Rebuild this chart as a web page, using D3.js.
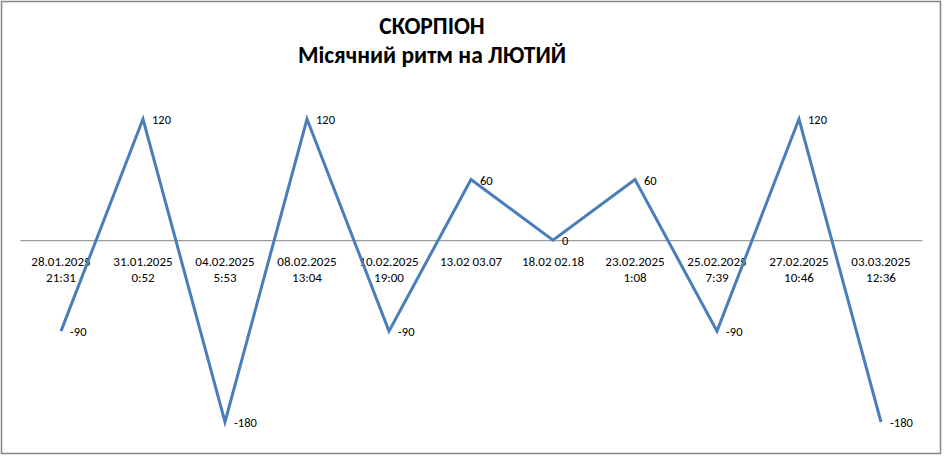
<!DOCTYPE html>
<html>
<head>
<meta charset="utf-8">
<title>СКОРПІОН</title>
<style>
  html, body { margin: 0; padding: 0; background: #fff; }
  svg { display: block; }
</style>
</head>
<body>
<script src="https://cdn.jsdelivr.net/npm/d3@7/dist/d3.min.js"></script>
<script>
    var width = 944;
    var height = 457;

    // дані
    var categories = [
        ["28.01.2025", "21:31"],
        ["31.01.2025", "0:52"],
        ["04.02.2025", "5:53"],
        ["08.02.2025", "13:04"],
        ["10.02.2025", "19:00"],
        ["13.02 03.07"],
        ["18.02 02.18"],
        ["23.02.2025", "1:08"],
        ["25.02.2025", "7:39"],
        ["27.02.2025", "10:46"],
        ["03.03.2025", "12:36"]
    ];
    var values = [-90, 120, -180, 120, -90, 60, 0, 60, -90, 120, -180];
    var titleLines = ["СКОРПІОН", "Місячний ритм на ЛЮТИЙ"];

    var padding = {left: 20, right: 22, top: 119, bottom: 35};
    var font = "Carlito, Lato, 'Open Sans', sans-serif";

    var svg = d3.select("body")
            .append("svg")
            .attr("width", width)
            .attr("height", height);

    // рамка
    svg.append("rect")
            .attr("x", 1.5)
            .attr("y", 1.5)
            .attr("width", 939)
            .attr("height", 452)
            .attr("fill", "#fff")
            .attr("stroke", "#868686")
            .attr("stroke-width", 1.5);

    // заголовок
    svg.selectAll(".title")
            .data(titleLines)
            .enter()
            .append("text")
            .attr("class", "title")
            .attr("x", 432)
            .attr("y", function (d, i) { return 34 + i * 29; })
            .attr("text-anchor", "middle")
            .attr("font-family", font)
            .attr("font-weight", "bold")
            .attr("font-size", "23.5px")
            .attr("fill", "#000")
            .text(function (d) { return d; });

    // x шкала
    var xScale = d3.scaleBand()
            .domain(d3.range(categories.length))
            .range([padding.left, width - padding.right]);

    // y шкала
    var yScale = d3.scaleLinear()
            .domain([-180, 120])
            .range([422, 119]);

    // вісь x на нулі
    var xAxis = d3.axisBottom(xScale).tickSize(0).tickFormat("");
    var axisG = svg.append("g")
            .attr("transform", "translate(0," + yScale(0) + ")")
            .call(xAxis);
    axisG.select(".domain").attr("stroke", "#868686").attr("stroke-width", 1);

    // підписи категорій
    var catG = svg.append("g").attr("font-family", font).attr("font-size", "13px");
    categories.forEach(function (lines, i) {
        var t = catG.append("text")
                .attr("x", xScale(i) + xScale.bandwidth() / 2)
                .attr("y", yScale(0) + 26)
                .attr("text-anchor", "middle")
                .attr("fill", "#000");
        lines.forEach(function (s, j) {
            t.append("tspan")
                    .attr("x", xScale(i) + xScale.bandwidth() / 2)
                    .attr("dy", j === 0 ? 0 : 16)
                    .text(s);
        });
    });

    // лінія
    var line = d3.line()
            .x(function (d, i) { return xScale(i) + xScale.bandwidth() / 2; })
            .y(function (d) { return yScale(d); });

    svg.append("path")
            .datum(values)
            .attr("d", line)
            .attr("fill", "none")
            .attr("stroke", "#4a7ebb")
            .attr("stroke-width", 3)
            .attr("stroke-linejoin", "miter");

    // підписи значень
    svg.selectAll(".MyText")
            .data(values)
            .enter()
            .append("text")
            .attr("class", "MyText")
            .attr("x", function (d, i) { return xScale(i) + xScale.bandwidth() / 2 + 9; })
            .attr("y", function (d) { return yScale(d) + 5; })
            .attr("font-family", font)
            .attr("font-size", "12.5px")
            .attr("fill", "#000")
            .text(function (d) { return d; });
</script>
</body>
</html>
